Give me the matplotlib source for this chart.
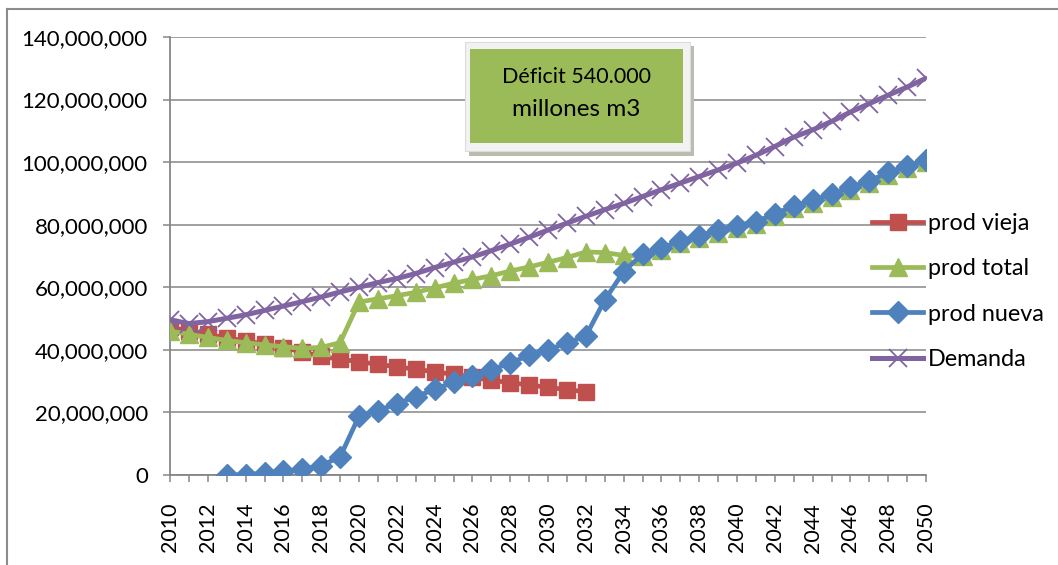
import matplotlib
matplotlib.use("Agg")
import matplotlib.pyplot as plt
from matplotlib.patches import Rectangle
from matplotlib.lines import Line2D
from matplotlib.ticker import FuncFormatter
import numpy as np

plt.rcParams['font.family'] = ['Lato', 'DejaVu Sans']

years = list(range(2010, 2051))
years_vieja = list(range(2010, 2033))
years_nueva = list(range(2013, 2051))

# values in millions of m3
prod_vieja = [47.2, 46.1, 45.0, 43.8, 42.9, 41.8, 40.7, 39.4, 37.9, 37.0, 36.2, 35.4,
              34.6, 33.8, 33.0, 32.2, 31.2, 30.3, 29.5, 28.8, 28.0, 27.3, 26.6]
prod_total = [46.0, 45.0, 44.0, 43.0, 42.3, 41.6, 41.0, 40.5, 40.8, 42.3, 55.3, 56.3,
              57.3, 58.4, 59.8, 61.3, 62.5, 63.7, 65.2, 66.5, 68.0, 69.5, 71.3, 71.1,
              70.2, 70.0, 71.8, 74.0, 75.7, 77.4, 78.9, 80.2, 82.7, 85.2, 87.0, 89.0,
              91.2, 93.2, 95.9, 98.0, 100.0]
prod_nueva = [0.0, 0.1, 0.6, 1.2, 1.8, 3.0, 5.8, 18.8, 20.6, 22.8, 25.0, 27.4, 29.6,
              31.5, 33.6, 35.8, 38.3, 40.0, 42.2, 44.4, 55.9, 65.0, 70.6, 72.6, 74.8,
              76.5, 78.2, 79.7, 81.0, 83.5, 86.0, 87.8, 89.8, 92.0, 94.0, 96.7, 98.8,
              100.8]
demanda = [49.6, 48.4, 49.0, 50.1, 51.2, 52.6, 54.0, 55.4, 56.9, 58.5, 60.0, 61.5,
           62.8, 64.4, 66.3, 68.0, 69.7, 71.7, 73.8, 76.0, 78.3, 80.5, 82.7, 84.8,
           86.8, 89.0, 91.2, 93.3, 95.4, 97.5, 99.7, 102.2, 105.0, 108.0, 110.3,
           113.0, 116.0, 118.7, 121.4, 124.0, 126.8]

labels = ['prod vieja', 'prod total', 'prod nueva', 'Demanda']
colors = ['#C0504D', '#9BBB59', '#4F81BD', '#8064A2']
box_text = ['Déficit 540.000', 'millones m3']

W, H = 1058, 565
fig = plt.figure(figsize=(W / 100, H / 100), dpi=100)
ax = fig.add_axes([170 / W, 1 - 475 / H, (926 - 170) / W, (475 - 37) / H])

M = 1e6
ax.plot(years_vieja, np.array(prod_vieja) * M, color=colors[0], lw=3.4, marker='s',
        ms=12, mec=colors[0], label=labels[0], zorder=3)
ax.plot(years, np.array(prod_total) * M, color=colors[1], lw=3.4, marker='^',
        ms=13, mec=colors[1], label=labels[1], zorder=4)
ax.plot(years_nueva, np.array(prod_nueva) * M, color=colors[2], lw=3.4, marker='D',
        ms=11, mec=colors[2], label=labels[2], zorder=5)
ax.plot(years, np.array(demanda) * M, color=colors[3], lw=3.6, marker='x',
        ms=13, mew=1.3, mec=colors[3], label=labels[3], zorder=6)

ax.set_xlim(2010, 2050)
ax.set_ylim(0, 140e6)
ax.set_yticks(np.arange(0, 140e6 + 1, 20e6))
ax.yaxis.set_major_formatter(FuncFormatter(lambda v, p: f"{v:,.0f}"))
ax.set_xticks(years)
ax.set_xticklabels([str(y) if y % 2 == 0 else '' for y in years], rotation=90)

grey = '#868686'
ax.grid(axis='y', color=grey, lw=1.1, zorder=0)
ax.set_axisbelow(True)
for s in ['top', 'right']:
    ax.spines[s].set_visible(False)
for s in ['left', 'bottom']:
    ax.spines[s].set_color(grey)
    ax.spines[s].set_linewidth(1.3)
ax.tick_params(axis='y', direction='out', length=5, width=1.1, color=grey,
               pad=11, labelsize=16, labelcolor='black')
ax.tick_params(axis='x', direction='out', length=5, width=1.1, color=grey,
               pad=15, labelsize=15.5, labelcolor='black')

leg = fig.legend(loc='upper left', bbox_to_anchor=(872 / W, 1 - 213 / H),
                 frameon=False, fontsize=16.8, handlelength=2.2, handletextpad=0.2,
                 labelspacing=1.04, borderpad=0, borderaxespad=0)

# outer chart border (left and top)
fig.add_artist(Line2D([7 / W, 7 / W], [0, 1 - 9 / H], color='#8c8c8c', lw=1.5))
fig.add_artist(Line2D([7 / W, 1], [1 - 9 / H, 1 - 9 / H], color='#8c8c8c', lw=1.5))

# text box with shadow
def rect(x0, y0, x1, y1, **kw):
    return Rectangle((x0 / W, 1 - y1 / H), (x1 - x0) / W, (y1 - y0) / H,
                     transform=fig.transFigure, **kw)

fig.add_artist(rect(469, 46, 694, 156, facecolor='#b9bdb0', edgecolor='none', zorder=10))
fig.add_artist(rect(465, 42, 690, 151, facecolor='#f2f2f2', edgecolor='#dcdcdc',
                    lw=0.8, zorder=11))
fig.add_artist(rect(470, 49, 683, 143, facecolor='#9BBB59', edgecolor='none', zorder=12))
fig.text(576 / W, 1 - 77 / H, box_text[0], ha='center', va='center', fontsize=15.5,
         zorder=13)
fig.text(576 / W, 1 - 109 / H, box_text[1], ha='center', va='center', fontsize=17.5,
         zorder=13)

fig.savefig('out.png', dpi=100)
